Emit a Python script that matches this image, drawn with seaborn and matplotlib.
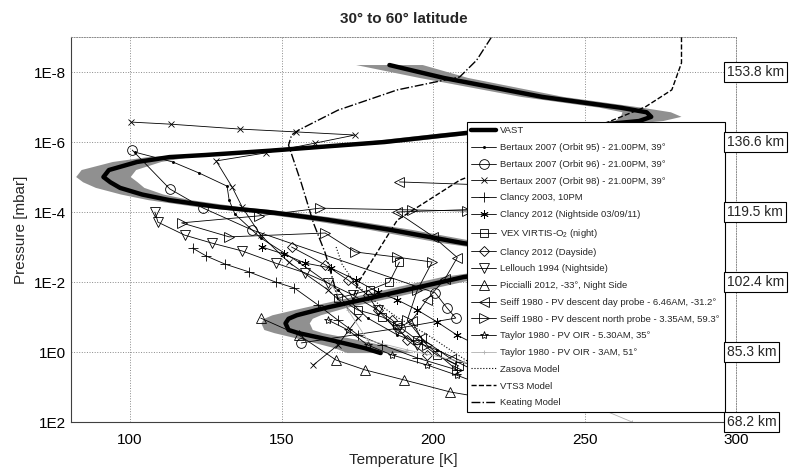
import numpy as np
import matplotlib
matplotlib.use("Agg")
import matplotlib.pyplot as plt
import matplotlib.transforms as mtransforms
import seaborn as sns

sns.set_style("white")
plt.rcParams["font.family"] = ["Liberation Sans", "DejaVu Sans"]
plt.rcParams["mathtext.fontset"] = "custom"
plt.rcParams["mathtext.rm"] = "Liberation Sans"

# temperature [K] and log10(pressure [mbar])
vast_temp = [185.6, 203.6, 236.0, 262.0, 270.5, 272.0, 268.0, 250.0, 211.0, 184.0,
             145.8, 125.0, 113.0, 102.3, 93.0, 91.2, 93.5, 96.7, 104.0, 113.0,
             129.4, 145.8, 165.0, 186.0, 210.0, 232.0, 240.5, 236.0, 210.0, 180.7,
             164.4, 155.0, 152.3, 151.3, 152.3, 155.6, 166.3, 177.5, 182.7]
vast_logp = [-8.2, -7.83, -7.29, -6.98, -6.85, -6.72, -6.6, -6.45, -6.26, -6.0,
             -5.75, -5.63, -5.57, -5.43, -5.2, -5.0, -4.85, -4.69, -4.5, -4.34,
             -4.14, -4.0, -3.78, -3.49, -3.11, -2.85, -2.65, -2.45, -2.14, -1.57,
             -1.26, -1.05, -0.95, -0.82, -0.63, -0.54, -0.34, -0.11, 0.03]
vast_spread = [11, 8, 7, 7, 8, 10, 8, 7, 7, 7,
               7, 7, 7, 8, 9, 9, 9, 8, 7, 7,
               7, 7, 7, 7, 7, 8, 9, 8, 7, 7,
               7, 8, 8, 8, 8, 8, 9, 10, 11]

b95_temp = [101.6, 114.1, 122.9, 132.0, 132.7, 134.6, 143.1, 155.6, 168.6, 178.4, 188.2, 201.3, 214.4, 227.5]
b95_logp = [-5.71, -5.43, -5.11, -4.74, -4.34, -3.94, -3.26, -2.57, -1.77, -0.97, -0.49, -0.06, 0.46, 0.94]

b96_temp = [100.7, 113.1, 124.2, 140.2, 200.7, 204.6, 207.5, 189.2, 156.5]
b96_logp = [-5.77, -4.66, -4.11, -3.49, -1.69, -1.26, -0.97, -0.69, -0.26]

b98_temp = [100.3, 113.4, 136.3, 154.6, 174.2, 161.1, 144.8, 128.4, 133.7, 137.0, 143.1, 152.3, 165.4, 175.2, 168.6, 160.5]
b98_logp = [-6.57, -6.51, -6.37, -6.29, -6.2, -5.97, -5.69, -5.46, -4.71, -4.14, -3.34, -2.57, -1.77, -0.97, -0.2, 0.37]

c03_temp = [120.6, 125.2, 131.4, 139.2, 148.0, 154.2, 162.1, 168.6, 175.2, 183.3, 194.8, 207.8]
c03_logp = [-2.97, -2.74, -2.51, -2.29, -2.0, -1.83, -1.34, -0.91, -0.49, -0.2, 0.17, 0.51]

c12n_temp = [143.5, 150.7, 157.8, 166.3, 174.5, 181.7, 188.2, 194.8, 201.3, 207.8, 214.4]
c12n_logp = [-3.0, -2.8, -2.54, -2.4, -2.06, -1.71, -1.49, -1.2, -0.86, -0.49, -0.2]

vex_temp = [188.9, 185.6, 179.1, 168.6, 175.2, 183.3, 188.2, 194.8, 201.3, 208.5]
vex_logp = [-2.57, -2.0, -1.77, -1.54, -1.2, -1.0, -0.77, -0.34, 0.09, 0.4]

c12d_temp = [153.3, 164.4, 171.9, 178.4, 181.7, 186.6, 191.5, 198.0]
c12d_logp = [-3.0, -2.49, -2.06, -1.63, -1.2, -0.91, -0.34, 0.09]

lel_temp = [108.2, 109.2, 118.0, 127.1, 136.9, 148.0, 157.8, 165.4, 173.5, 181.7, 188.2, 194.8]
lel_logp = [-4.0, -3.71, -3.34, -3.11, -2.89, -2.54, -2.26, -1.97, -1.63, -1.2, -0.63, -0.2]

pic_temp = [143.1, 155.6, 168.0, 177.5, 190.5, 205.6, 220.9, 240.5]
pic_logp = [-0.97, -0.49, 0.23, 0.51, 0.8, 1.14, 1.37, 1.51]

sday_temp = [188.9, 215.0, 232.0, 222.0, 188.0, 200.0, 208.0, 204.0, 198.0, 193.0, 196.0, 206.0, 220.0, 236.0]
sday_logp = [-4.86, -4.78, -4.45, -4.1, -4.0, -3.3, -2.7, -2.1, -1.5, -0.9, -0.4, 0.2, 0.8, 1.4]

snorth_temp = [211.1, 193.1, 162.7, 142.5, 117.0, 132.7, 164.4, 174.2, 188.2, 199.7, 194.8, 191.5, 198.0, 207.8]
snorth_logp = [-4.03, -4.06, -4.11, -3.89, -3.69, -3.29, -3.4, -2.86, -2.71, -2.57, -1.77, -0.91, -0.2, 0.51]

tay530_temp = [165.4, 171.9, 178.4, 186.6, 198.0, 207.8, 220.9, 234.0]
tay530_logp = [-0.91, -0.63, -0.2, 0.09, 0.37, 0.66, 1.09, 1.37]

tay3_temp = [165.4, 171.9, 178.4, 191.5, 210.1, 240.5, 265.7]
tay3_logp = [-2.06, -1.2, -0.34, -0.06, 0.29, 1.09, 2.0]

zasova_temp = [168.0, 170.0, 174.0, 180.0, 188.0, 198.0, 212.0, 228.0]
zasova_logp = [-3.0, -2.5, -2.0, -1.5, -1.0, -0.5, 0.3, 1.2]

vts3_temp = [282.0, 282.0, 278.8, 270.0, 256.9, 235.0, 208.8, 188.2, 175.2, 173.5]
vts3_logp = [-9.0, -8.26, -7.49, -7.0, -6.54, -5.8, -4.91, -3.77, -1.97, -1.49]

keating_temp = [219.3, 214.4, 208.8, 188.2, 168.6, 155.6, 153.3, 152.3, 156.5, 160.5, 164.4, 167.6, 168.6]
keating_logp = [-9.0, -8.34, -7.86, -7.49, -6.91, -6.34, -6.2, -5.91, -4.83, -3.69, -2.83, -1.86, -1.49]

y_ticks = [1e-8, 1e-6, 1e-4, 1e-2, 1e0, 1e2]
y_ticklabels = ["1E-8", "1E-6", "1E-4", "1E-2", "1E0", "1E2"]
km_labels = ["153.8 km", "136.6 km", "119.5 km", "102.4 km", "85.3 km", "68.2 km"]

fig = plt.figure(figsize=(7.97, 4.70), dpi=100)
ax = fig.add_axes([0.0891, 0.1021, 0.8344, 0.8191])


def profile(t, lp, label, **kw):
    kw.setdefault("color", "black")
    kw.setdefault("linewidth", 0.6)
    kw.setdefault("markeredgecolor", kw["color"])
    kw.setdefault("markeredgewidth", 0.6)
    sns.lineplot(x=np.array(t), y=10.0 ** np.array(lp), sort=False, estimator=None,
                 ax=ax, label=label, **kw)


# uncertainty band of the VAST profile
vt = np.array(vast_temp)
vd = np.array(vast_spread)
vp = 10.0 ** np.array(vast_logp)
ax.fill(np.concatenate([vt - vd, (vt + vd)[::-1]]), np.concatenate([vp, vp[::-1]]),
        color="#909090", lw=0, zorder=2)

profile(vast_temp, vast_logp, "VAST", linewidth=3.2, zorder=5)
profile(b95_temp, b95_logp, "Bertaux 2007 (Orbit 95) - 21.00PM, 39°", marker=".", markersize=3)
profile(b96_temp, b96_logp, "Bertaux 2007 (Orbit 96) - 21.00PM, 39°", marker="o", markersize=7, mfc="none")
profile(b98_temp, b98_logp, "Bertaux 2007 (Orbit 98) - 21.00PM, 39°", marker="x", markersize=4.5)
profile(c03_temp, c03_logp, "Clancy 2003, 10PM", marker="+", markersize=7)
profile(c12n_temp, c12n_logp, "Clancy 2012 (Nightside 03/09/11)", marker=(6, 2, 0), markersize=6)
profile(vex_temp, vex_logp, "VEX VIRTIS-O$_2$ (night)", marker="s", markersize=6, mfc="none")
profile(c12d_temp, c12d_logp, "Clancy 2012 (Dayside)", marker="D", markersize=5.5, mfc="none")
profile(lel_temp, lel_logp, "Lellouch 1994 (Nightside)", marker="v", markersize=7, mfc="none")
profile(pic_temp, pic_logp, "Piccialli 2012, -33°, Night Side", marker="^", markersize=7, mfc="none")
profile(sday_temp, sday_logp, "Seiff 1980 - PV descent day probe - 6.46AM, -31.2°", marker="<", markersize=7, mfc="none")
profile(snorth_temp, snorth_logp, "Seiff 1980 - PV descent north probe - 3.35AM, 59.3°", marker=">", markersize=7, mfc="none")
profile(tay530_temp, tay530_logp, "Taylor 1980 - PV OIR - 5.30AM, 35°", marker="*", markersize=6, mfc="none")
profile(tay3_temp, tay3_logp, "Taylor 1980 - PV OIR - 3AM, 51°", marker="+", markersize=3, color="#b0b0b0")
profile(zasova_temp, zasova_logp, "Zasova Model", linestyle=":", linewidth=0.8)
profile(vts3_temp, vts3_logp, "VTS3 Model", linestyle="--", linewidth=1.0)
profile(keating_temp, keating_logp, "Keating Model", linestyle="-.", linewidth=1.0)

ax.set_yscale("log")
ax.set_xlim(80.5, 300)
ax.set_ylim(1e2, 1e-9)
ax.set_xticks([100, 150, 200, 250, 300])
ax.set_yticks(y_ticks)
ax.set_yticklabels(y_ticklabels)
ax.minorticks_off()
ax.tick_params(direction="in", length=4, labelsize=11, width=0.8, colors="black")
ax.tick_params(axis="x", pad=8)
ax.grid(True, linestyle=":", color="#8a8a8a", linewidth=0.7)
ax.set_axisbelow(True)
for s in ["left", "bottom"]:
    ax.spines[s].set_color("#404040")
    ax.spines[s].set_linewidth(0.8)
for s in ["top", "right"]:
    ax.spines[s].set_linestyle(":")
    ax.spines[s].set_color("#8a8a8a")
    ax.spines[s].set_linewidth(0.7)

ax.set_xlabel("Temperature [K]", fontsize=11, labelpad=4)
ax.set_ylabel("Pressure [mbar]", fontsize=11)
ax.set_title("30° to 60° latitude", fontsize=11, fontweight="bold", pad=10)

leg = ax.legend(loc="upper left", bbox_to_anchor=(0.5955, 0.0, 0.388, 0.779), mode="expand",
                borderaxespad=0, fontsize=6.8, handlelength=2.6, handletextpad=0.4,
                labelspacing=0.82, borderpad=0.45, fancybox=False, framealpha=1,
                edgecolor="black")
leg.get_frame().set_linewidth(0.8)
leg.set_zorder(10)

trans = mtransforms.blended_transform_factory(ax.transAxes, ax.transData)
for yv, lab in zip(y_ticks, km_labels):
    ax.text(0.9865, yv, lab, transform=trans, ha="left", va="center", fontsize=10,
            zorder=11, bbox=dict(boxstyle="square,pad=0.2", fc="white", ec="black", lw=0.8))

fig.savefig("out.png", dpi=100)
